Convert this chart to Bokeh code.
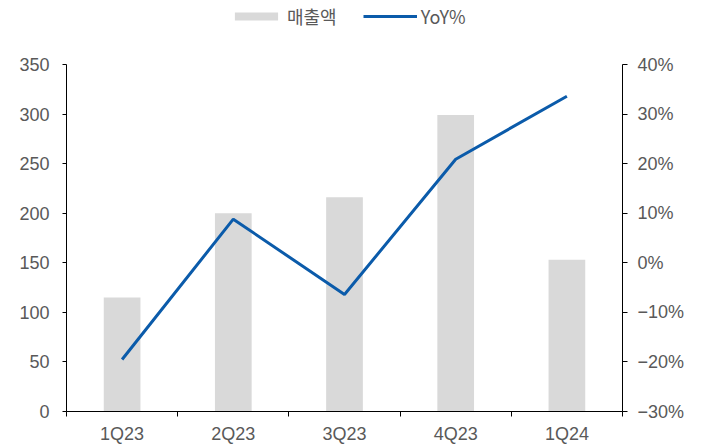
from bokeh.plotting import figure
from bokeh.models import (Range1d, LinearAxis, FixedTicker, Legend, LegendItem,
                          ColumnDataSource, CustomJSTickFormatter)
from bokeh.embed import file_html
from bokeh.resources import INLINE

categories = ["1Q23", "2Q23", "3Q23", "4Q23", "1Q24"]
sales = [115, 200, 216, 299, 153]
yoy = [-19.5, 8.8, -6.4, 20.9, 33.6]
left_ticks = [0, 50, 100, 150, 200, 250, 300, 350]
right_ticks = [-30, -20, -10, 0, 10, 20, 30, 40]
right_labels = ["\u221230%", "\u221220%", "\u221210%", "0%", "10%", "20%", "30%", "40%"]

xs = [i + 0.5 for i in range(len(categories))]
src = ColumnDataSource(dict(x=xs, sales=sales, yoy=yoy))

TXT = "#595959"
FONT = "Liberation Sans"

# layout: data area is 347px tall, with 64px of free space above it for the legend
data_h = 347
top_pad = 64
frame_h = data_h + top_pad
l0, l1 = left_ticks[0], left_ticks[-1]
r0, r1 = right_ticks[0], right_ticks[-1]
l_end = l0 + (l1 - l0) * frame_h / data_h
r_end = r0 + (r1 - r0) * frame_h / data_h

p = figure(frame_width=556, frame_height=frame_h, output_backend="svg", toolbar_location=None,
           x_range=Range1d(0, len(categories)), y_range=Range1d(l0, l_end),
           min_border_left=66, min_border_right=81, min_border_top=0, min_border_bottom=28)
p.extra_y_ranges = {"yoy": Range1d(r0, r_end)}
p.outline_line_color = None
p.xgrid.visible = False
p.ygrid.visible = False

bars = p.vbar(x="x", top="sales", width=0.33, source=src, fill_color="#d9d9d9", line_color=None)
ln = p.line(x="x", y="yoy", source=src, y_range_name="yoy", line_color="#0B5BAA", line_width=3)

# x axis
xa = p.xaxis[0]
xa.ticker = FixedTicker(ticks=xs, minor_ticks=list(range(len(categories) + 1)))
xa.formatter = CustomJSTickFormatter(args=dict(catlabels=categories),
                                     code="return catlabels[Math.floor(tick)];")
xa.major_tick_line_color = None
xa.minor_tick_out = 5
xa.minor_tick_in = 0
xa.minor_tick_line_color = "black"
xa.axis_line_color = "black"
xa.major_label_text_font = FONT
xa.major_label_text_font_size = "18px"
xa.major_label_text_color = TXT
xa.major_label_standoff = 6

# left axis
ya = p.yaxis[0]
ya.ticker = FixedTicker(ticks=left_ticks)
ya.bounds = (l0, l1)
ya.major_tick_out = 4
ya.major_tick_in = 0
ya.minor_tick_line_color = None
ya.axis_line_color = "black"
ya.major_tick_line_color = "black"
ya.major_label_text_font = FONT
ya.major_label_text_font_size = "18px"
ya.major_label_text_color = TXT
ya.major_label_standoff = 13

# right axis
ra = LinearAxis(y_range_name="yoy", ticker=FixedTicker(ticks=right_ticks), bounds=(r0, r1),
                formatter=CustomJSTickFormatter(args=dict(tvals=right_ticks, tlabels=right_labels),
                                                code="return tlabels[tvals.indexOf(tick)];"))
ra.major_tick_out = 5
ra.major_tick_in = 0
ra.minor_tick_line_color = None
ra.axis_line_color = "black"
ra.major_tick_line_color = "black"
ra.major_label_text_font = FONT
ra.major_label_text_font_size = "18px"
ra.major_label_text_color = TXT
ra.major_label_standoff = 10
p.add_layout(ra, "right")

legend = Legend(items=[LegendItem(label="매출액", renderers=[bars]),
                       LegendItem(label="YoY%", renderers=[ln])],
                orientation="horizontal", location=(163, frame_h - 29),
                glyph_width=54, glyph_height=10, label_standoff=4, spacing=26,
                padding=0, margin=0, border_line_color=None, background_fill_alpha=0,
                label_text_font="Noto Sans CJK KR", label_text_font_size="18px",
                label_text_color=TXT)
p.add_layout(legend, "center")

open("out.html", "w").write(file_html(p, INLINE))
